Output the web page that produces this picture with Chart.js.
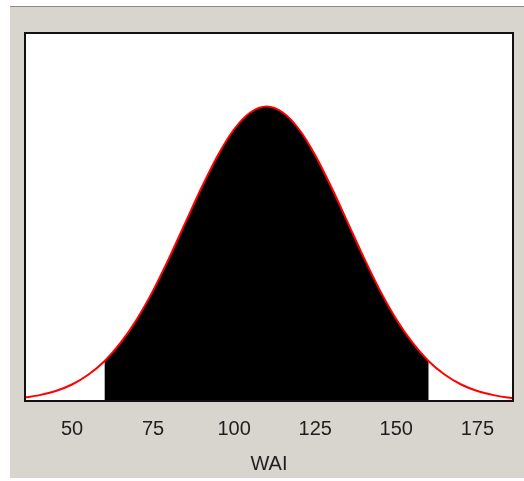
<!DOCTYPE html>
<html>
<head>
<meta charset="utf-8">
<script src="https://cdn.jsdelivr.net/npm/chart.js@4.4.0/dist/chart.umd.min.js"></script>
<style>
  html, body { margin: 0; padding: 0; background: #fff; }
  .panel {
    position: absolute; left: 10px; top: 6px; width: 514px; height: 471px;
    background: #d8d5ce; border-top: 1px solid #8c8c8c;
  }
  .wrap { position: absolute; left: 0; top: 0; width: 524px; height: 481px; }
</style>
</head>
<body>
<div class="panel"></div>
<div class="wrap"><canvas id="chartWai"></canvas></div>
<script>
// ── Data ───────────────────────────────────────────────────
const waiValues = [35, 40, 45, 50, 55, 60, 65, 70, 75, 80, 85, 90, 95, 100, 105, 110,
                   115, 120, 125, 130, 135, 140, 145, 150, 155, 160, 165, 170, 175, 180, 185, 190];
const curveHeights = [1.1, 2.0, 3.4, 5.6, 8.9, 13.5, 19.8, 27.8, 37.5, 48.7, 60.7, 72.6, 83.5, 92.3, 98.0, 100,
                      98.0, 92.3, 83.5, 72.6, 60.7, 48.7, 37.5, 27.8, 19.8, 13.5, 8.9, 5.6, 3.4, 2.0, 1.1, 0.6];
const shadeFrom = 60;
const shadeTo = 160;
const tickValues = [50, 75, 100, 125, 150, 175];
const axisTitle = 'WAI';

const curvePoints = waiValues.map((x, i) => ({ x: x, y: curveHeights[i] }));
const shadePoints = waiValues.map((x, i) => ({ x: x, y: (x >= shadeFrom && x <= shadeTo) ? curveHeights[i] : null }));

const plotFrame = {
    id: 'plotFrame',
    beforeDatasetsDraw(chart) {
        const { ctx, chartArea: a } = chart;
        ctx.save();
        ctx.fillStyle = '#ffffff';
        ctx.fillRect(a.left, a.top, a.width, a.height);
        ctx.restore();
    },
    afterDraw(chart) {
        const { ctx, chartArea: a } = chart;
        ctx.save();
        ctx.strokeStyle = '#111';
        ctx.lineWidth = 2;
        ctx.strokeRect(a.left, a.top, a.width, a.height);
        ctx.restore();
    }
};

const labelFont = { family: "'Liberation Sans', Arial, sans-serif", size: 20 };

new Chart(document.getElementById('chartWai'), {
    type: 'line',
    data: {
        datasets: [
            {
                label: 'curve', data: curvePoints, borderColor: '#ff0000', borderWidth: 2,
                pointRadius: 0, fill: false, cubicInterpolationMode: 'monotone', order: 0
            },
            {
                label: 'shade', data: shadePoints, borderColor: '#000', borderWidth: 0,
                backgroundColor: '#000', pointRadius: 0, fill: 'origin', spanGaps: false,
                cubicInterpolationMode: 'monotone', order: 1
            }
        ]
    },
    options: {
        responsive: true, maintainAspectRatio: false, animation: false,
        layout: { padding: { left: 25, right: 11, top: 33, bottom: 5 } },
        plugins: { legend: { display: false }, tooltip: { enabled: false } },
        scales: {
            x: {
                type: 'linear', min: 35.5, max: 186,
                grid: { display: false, drawTicks: false }, border: { display: false },
                afterBuildTicks: (scale) => { scale.ticks = tickValues.map(v => ({ value: v })); },
                ticks: { color: '#1e1e1e', padding: 16, maxRotation: 0, font: labelFont },
                title: { display: true, text: axisTitle, color: '#1e1e1e', padding: { top: -5, bottom: 0 },
                         font: labelFont }
            },
            y: { display: false, min: 0, max: 125 }
        }
    },
    plugins: [plotFrame]
});
</script>
</body>
</html>
